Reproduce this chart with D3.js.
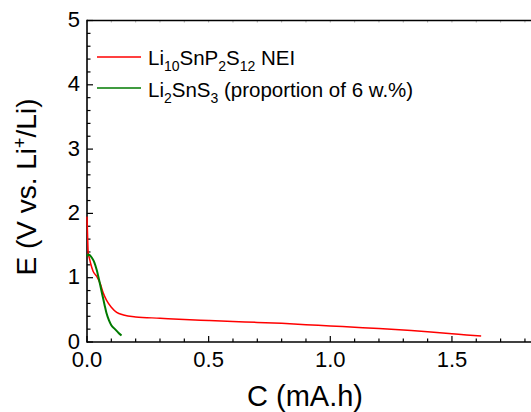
<!DOCTYPE html>
<html lang="en">
<head>
    <meta charset="UTF-8">
    <title>E vs C</title>
    <style>
        body { margin: 0; background: #fff; }
        text { font-family: "Liberation Sans", Arial, sans-serif; fill: #000; }
    </style>
</head>
<body>
<div id="chart"></div>
<script src="https://d3js.org/d3.v7.min.js"></script>
<script>
    // capacity (mA.h) and potential (V)
    var redC = [0, 0.002, 0.005, 0.01, 0.015, 0.025, 0.04, 0.055, 0.067, 0.08, 0.1, 0.122, 0.15, 0.2, 0.3, 0.4, 0.5, 0.6, 0.7, 0.8, 0.9, 1.0, 1.1, 1.2, 1.3, 1.4, 1.5, 1.56, 1.62];
    var redE = [1.95, 1.7, 1.38, 1.3, 1.22, 1.1, 1.02, 0.9, 0.76, 0.65, 0.54, 0.46, 0.42, 0.39, 0.37, 0.35, 0.335, 0.32, 0.305, 0.29, 0.27, 0.25, 0.23, 0.21, 0.185, 0.16, 0.13, 0.11, 0.093];

    var greenC = [0, 0.005, 0.012, 0.02, 0.03, 0.04, 0.05, 0.058, 0.065, 0.072, 0.08, 0.09, 0.1, 0.115, 0.13, 0.142];
    var greenE = [1.33, 1.36, 1.35, 1.31, 1.24, 1.12, 0.96, 0.82, 0.7, 0.58, 0.45, 0.34, 0.26, 0.2, 0.14, 0.1];

    var xTicks = [0, 0.5, 1.0, 1.5];
    var yTicks = [0, 1, 2, 3, 4, 5];

    var width = 531, height = 412;
    var mLeft = 87, mTop = 20.5, mBottom = 342;

    var svg = d3.select("#chart").append("svg")
        .attr("width", width)
        .attr("height", height);

    var x = d3.scaleLinear().domain([0, 1.85]).range([mLeft, mLeft + 1.85 * 243.3]);
    var y = d3.scaleLinear().domain([0, 5]).range([mBottom, mTop]);

    // minor + major ticks, pointing inward
    var xMinor = d3.range(0, 1.85, 0.1);
    var yMinor = d3.range(0, 5.01, 0.2);

    svg.append("g").selectAll("line")
        .data(xMinor)
        .enter().append("line")
        .attr("x1", function(d) { return x(d); })
        .attr("x2", function(d) { return x(d); })
        .attr("y1", mBottom)
        .attr("y2", function(d, i) { return i % 5 == 0 ? mBottom - 6 : mBottom - 3.5; })
        .attr("stroke", "#000").attr("stroke-width", 1.2);

    svg.append("g").selectAll("line")
        .data(xMinor)
        .enter().append("line")
        .attr("x1", function(d) { return x(d); })
        .attr("x2", function(d) { return x(d); })
        .attr("y1", mTop)
        .attr("y2", mTop + 2)
        .attr("stroke", "#999").attr("stroke-width", 0.8);

    svg.append("g").selectAll("line")
        .data(yMinor)
        .enter().append("line")
        .attr("x1", mLeft)
        .attr("x2", function(d, i) { return i % 5 == 0 ? mLeft + 6 : mLeft + 3.5; })
        .attr("y1", function(d) { return y(d); })
        .attr("y2", function(d) { return y(d); })
        .attr("stroke", "#000").attr("stroke-width", 1.2);

    // axis frame
    svg.append("line").attr("x1", mLeft).attr("x2", width).attr("y1", mBottom).attr("y2", mBottom)
        .attr("stroke", "#000").attr("stroke-width", 1.6);
    svg.append("line").attr("x1", mLeft).attr("x2", width).attr("y1", mTop).attr("y2", mTop)
        .attr("stroke", "#000").attr("stroke-width", 1.6);
    svg.append("line").attr("x1", mLeft).attr("x2", mLeft).attr("y1", mTop - 0.8).attr("y2", mBottom + 0.8)
        .attr("stroke", "#000").attr("stroke-width", 1.6);

    // tick labels
    svg.append("g").selectAll("text")
        .data(xTicks)
        .enter().append("text")
        .attr("x", function(d) { return x(d); })
        .attr("y", 367)
        .attr("text-anchor", "middle")
        .attr("font-size", 22)
        .text(function(d) { return d.toFixed(1); });

    svg.append("g").selectAll("text")
        .data(yTicks)
        .enter().append("text")
        .attr("x", 80)
        .attr("y", function(d) { return y(d) + 6.5; })
        .attr("text-anchor", "end")
        .attr("font-size", 22)
        .text(function(d) { return d; });

    // axis titles
    svg.append("text")
        .attr("x", 305).attr("y", 406)
        .attr("text-anchor", "middle")
        .attr("font-size", 29)
        .text("C (mA.h)");

    var yt = svg.append("text")
        .attr("transform", "translate(36,187) rotate(-90)")
        .attr("text-anchor", "middle")
        .attr("font-size", 28);
    yt.append("tspan").text("E (V vs. Li");
    yt.append("tspan").attr("dy", -10).attr("font-size", 18).text("+");
    yt.append("tspan").attr("dy", 10).text("/Li)");

    // curves
    var line = d3.line()
        .x(function(d) { return x(d[0]); })
        .y(function(d) { return y(d[1]); })
        .curve(d3.curveMonotoneX);

    svg.append("path")
        .datum(d3.zip(redC, redE))
        .attr("fill", "none")
        .attr("stroke", "#ff0000")
        .attr("stroke-width", 1.5)
        .attr("d", line);

    svg.append("path")
        .datum(d3.zip(greenC, greenE))
        .attr("fill", "none")
        .attr("stroke", "#007a00")
        .attr("stroke-width", 2)
        .attr("d", line);

    // legend text with subscripts
    function legendText(yb, parts) {
        var t = svg.append("text").attr("x", 148).attr("y", yb).attr("font-size", 20.5);
        var shift = 0;
        parts.forEach(function(p) {
            var ts = t.append("tspan").text(p[0]);
            if (p[1]) {
                ts.attr("font-size", 14).attr("dy", 6 - shift);
                shift = 6;
            } else {
                ts.attr("dy", -shift);
                shift = 0;
            }
        });
    }

    svg.append("line").attr("x1", 97).attr("x2", 141).attr("y1", 57).attr("y2", 57)
        .attr("stroke", "#ff0000").attr("stroke-width", 1.5);
    legendText(64.5, [["Li"], ["10", 1], ["SnP"], ["2", 1], ["S"], ["12", 1], [" NEI"]]);

    svg.append("line").attr("x1", 97).attr("x2", 141).attr("y1", 88).attr("y2", 88)
        .attr("stroke", "#007a00").attr("stroke-width", 1.5);
    legendText(96.5, [["Li"], ["2", 1], ["SnS"], ["3", 1], [" (proportion of 6 w.%)"]]);
</script>
</body>
</html>
